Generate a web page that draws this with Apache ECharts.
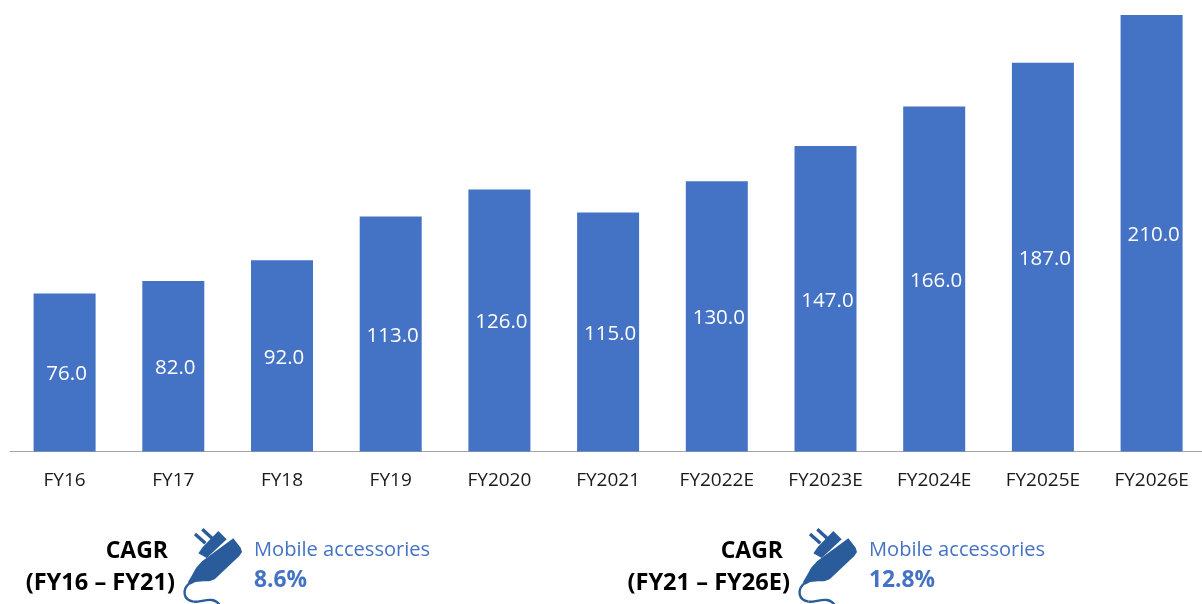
<!DOCTYPE html>
<html>
<head>
<meta charset="utf-8">
<style>html,body{margin:0;padding:0;background:#fff;overflow:hidden}#w{width:1202px;height:604px;overflow:hidden}#c{width:1210px;height:604px}</style>
<script src="https://cdn.jsdelivr.net/npm/echarts@6/dist/echarts.min.js"></script>
</head>
<body>
<div id="w"><div id="c"></div></div>
<script>
const categories = ['FY16','FY17','FY18','FY19','FY2020','FY2021','FY2022E','FY2023E','FY2024E','FY2025E','FY2026E'];
const values = [76,82,92,113,126,115,130,147,166,187,210];
const cagrPanels = [
  {dx:0, range:'(FY16 – FY21)', rate:'8.6%'},
  {dx:615, range:'(FY21 – FY26E)', rate:'12.8%'}
];
const FONT = '"Open Sans","Noto Sans",sans-serif';
const BLUE = '#4472C4', ICON = '#2A5C9C';

function panel(p){
  const text = (x,y,t,o)=>({type:'text',x:x,y:y,silent:true,style:Object.assign({text:t,fontFamily:FONT,textVerticalAlign:'middle'},o)});
  return [
    text(168+p.dx,551,'CAGR',{fill:'#000',fontSize:23,fontWeight:700,textAlign:'right'}),
    text(175+p.dx,583,p.range,{fill:'#000',fontSize:23.6,fontWeight:700,textAlign:'right'}),
    text(254+p.dx,550,'Mobile accessories',{fill:BLUE,fontSize:20.1,textAlign:'left'}),
    text(254+p.dx,581,p.rate,{fill:BLUE,fontSize:22.8,fontWeight:700,textAlign:'left'}),
    {type:'group',x:170+p.dx,y:520,scaleX:1/3,scaleY:1/3,silent:true,children:[
      {type:'polygon',shape:{points:[[145,33],[170,58],[110,114],[85,100],[99,80]]},style:{fill:ICON}},
      {type:'polygon',shape:{points:[[190,55],[212,83],[216,96],[208,108],[134,178],[118,184],[100,184],[76,186],[60,194],[54,186],[66,166],[78,144],[96,124]]},style:{fill:ICON}},
      {type:'line',shape:{x1:75,y1:42,x2:106,y2:70},style:{stroke:ICON,lineWidth:10}},
      {type:'line',shape:{x1:97,y1:28,x2:126,y2:55},style:{stroke:ICON,lineWidth:10}},
      {type:'bezierCurve',shape:{x1:60,y1:188,cpx1:34,cpy1:210,cpx2:40,cpy2:240,x2:70,y2:245},style:{stroke:ICON,fill:'none',lineWidth:7}},
      {type:'bezierCurve',shape:{x1:70,y1:245,cpx1:95,cpy1:248,cpx2:130,cpy2:225,x2:150,y2:256},style:{stroke:ICON,fill:'none',lineWidth:7}}
    ]}
  ];
}

const chart = echarts.init(document.getElementById('c'),null,{renderer:'canvas'});
chart.setOption({
  animation:false,
  backgroundColor:'#fff',
  grid:{left:10.25,right:4.05,top:15,bottom:152.5,containLabel:false},
  xAxis:{type:'category',data:categories,
    axisLine:{lineStyle:{color:'#A6A6A6',width:1}},
    axisTick:{show:false},
    axisLabel:{interval:0,color:'#1a1a1a',fontFamily:FONT,fontSize:19,margin:20}},
  yAxis:{type:'value',min:0,max:210,show:false,splitLine:{show:false}},
  series:[{type:'bar',data:values,barWidth:62,itemStyle:{color:BLUE},
    label:{show:true,position:'inside',offset:[2,2],color:'#fff',fontFamily:FONT,fontSize:20.5,
      formatter:p=>p.value.toFixed(1)}}],
  graphic:{elements:cagrPanels.flatMap(panel)}
});
</script>
</body>
</html>
